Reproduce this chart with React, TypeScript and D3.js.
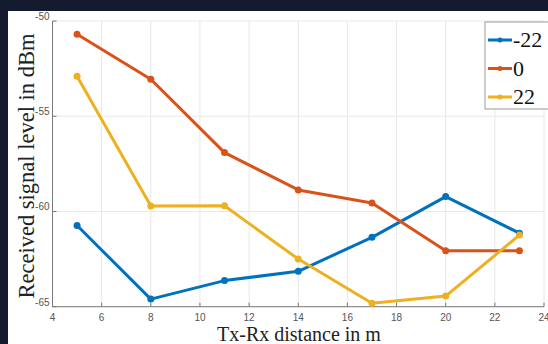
import React from "react";
import * as d3 from "d3";

const distances = [5, 8, 11, 14, 17, 20, 23];
const seriesNames = ["-22", "0", "22"];
const seriesM22 = [-60.74, -64.6, -63.63, -63.14, -61.36, -59.22, -61.14];
const series0 = [-50.7, -53.06, -56.91, -58.87, -59.56, -62.06, -62.06];
const series22 = [-52.9, -59.71, -59.7, -62.5, -64.82, -64.44, -61.24];
const xTicks = [4, 6, 8, 10, 12, 14, 16, 18, 20, 22, 24];
const yTicks = [-50, -55, -60, -65];
const colors = ["#0072BD", "#D95319", "#EDB120"];

export default function App() {
  const W = 548, H = 344;
  const x = d3.scaleLinear().domain([4, 24]).range([52.5, 544]);
  const y = d3.scaleLinear().domain([-65, -50]).range([306.7, 21]);
  const all = [seriesM22, series0, series22];
  const line = d3.line<number>().x((_, i) => x(distances[i])).y((v) => y(v));
  const tickFont = "'Liberation Sans', Arial, sans-serif";
  const serif = "'Liberation Serif', 'Times New Roman', serif";
  return (
    <svg width={W} height={H} style={{ position: "absolute", left: 0, top: 0 }}>
      <rect x={0} y={0} width={W} height={H} fill="#141b2e" />
      <rect x={8} y={11} width={W - 8} height={H - 11} fill="#ffffff" />
      {xTicks.map((t) => (
        <line key={"gx" + t} x1={x(t)} x2={x(t)} y1={y(-50)} y2={y(-65)} stroke="#e8e8e8" strokeWidth={1} />
      ))}
      {yTicks.map((t) => (
        <line key={"gy" + t} x1={x(4)} x2={x(24)} y1={y(t)} y2={y(t)} stroke="#e8e8e8" strokeWidth={1} />
      ))}
      <line x1={x(4)} x2={x(24)} y1={y(-65)} y2={y(-65)} stroke="#7a7a7a" strokeWidth={1} />
      <line x1={x(4)} x2={x(4)} y1={y(-50)} y2={y(-65)} stroke="#7a7a7a" strokeWidth={1} />
      {xTicks.map((t) => (
        <g key={"tx" + t}>
          <line x1={x(t)} x2={x(t)} y1={y(-65)} y2={y(-65) - 4} stroke="#7a7a7a" />
          <text x={x(t)} y={y(-65) + 14} fontSize={10} fontFamily={tickFont} fill="#555" textAnchor="middle">{t}</text>
        </g>
      ))}
      {yTicks.map((t) => (
        <g key={"ty" + t}>
          <line x1={x(4)} x2={x(4) + 4} y1={y(t)} y2={y(t)} stroke="#7a7a7a" />
          <text x={x(4) - 3} y={y(t) - 1} fontSize={10} fontFamily={tickFont} fill="#555" textAnchor="end">{t}</text>
        </g>
      ))}
      {all.map((s, k) => (
        <g key={"s" + k}>
          <path d={line(s) || ""} fill="none" stroke={colors[k]} strokeWidth={3} strokeLinejoin="round" />
          {s.map((v, i) => (
            <circle key={i} cx={x(distances[i])} cy={y(v)} r={3.5} fill={colors[k]} />
          ))}
        </g>
      ))}
      <text x={299} y={341} fontSize={20} fontFamily={serif} fill="#222" textAnchor="middle">Tx-Rx distance in m</text>
      <text transform={`translate(34,166) rotate(-90)`} fontSize={22.5} fontFamily={serif} fill="#222" textAnchor="middle">Received signal level in dBm</text>
      <rect x={485} y={22} width={70} height={87} fill="#ffffff" stroke="#999" strokeWidth={1} />
      {seriesNames.map((n, k) => {
        const ly = 40 + k * 28.5;
        return (
          <g key={"l" + k}>
            <line x1={488} x2={512} y1={ly} y2={ly} stroke={colors[k]} strokeWidth={3} />
            <circle cx={500} cy={ly} r={2.5} fill={colors[k]} />
            <text x={513} y={ly + 7} fontSize={22} fontFamily={serif} fill="#111">{n}</text>
          </g>
        );
      })}
    </svg>
  );
}
